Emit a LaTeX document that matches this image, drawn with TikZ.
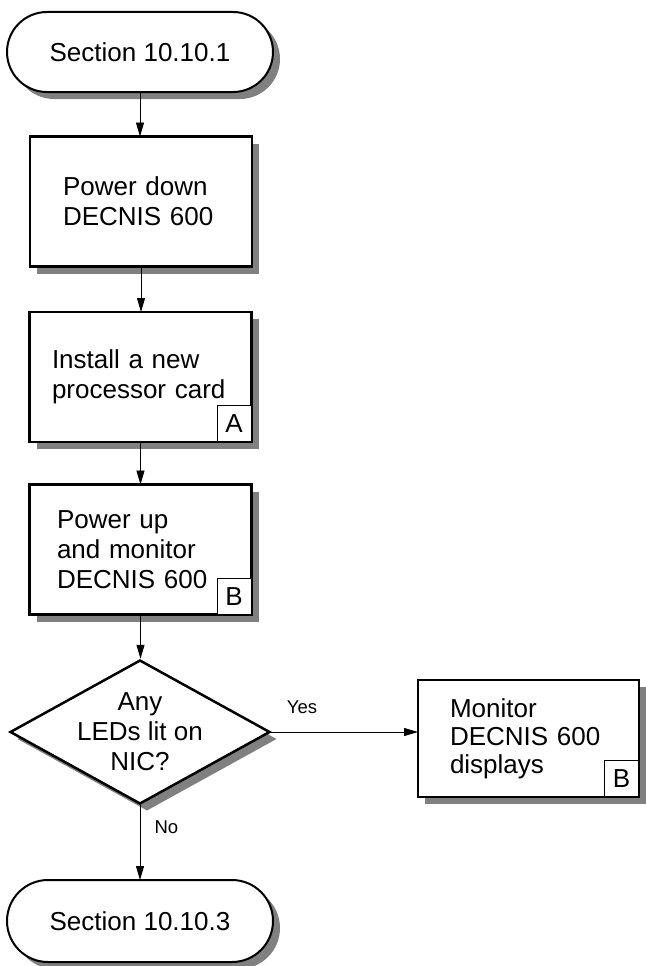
\documentclass[tikz,border=0pt]{standalone}
\usepackage{fontspec}
\setmainfont{Liberation Sans}
\usetikzlibrary{shapes.geometric,shadows,arrows.meta}

\begin{document}
\begin{tikzpicture}[x=1pt, y=-1pt,
    shade/.style={drop shadow={shadow xshift=7pt, shadow yshift=-7pt, fill=black!50, opacity=1}},
    big/.style={font=\fontsize{26}{30}\selectfont},
    terminal/.style={draw, big, line width=2pt, fill=white, rounded corners=40pt, minimum width=266pt, minimum height=80pt, outer sep=0pt, shade},
    procbox/.style={draw, big, line width=2.5pt, fill=white, minimum width=222pt, minimum height=130pt, align=left, outer sep=0pt, shade},
    tagbox/.style={draw, big, line width=0.8pt, fill=white, minimum width=34pt, minimum height=36pt, inner sep=0pt, anchor=south east},
    decision/.style={draw, diamond, line width=2.5pt, fill=white, minimum width=260pt, minimum height=144pt, inner sep=0pt, shade},
    flow/.style={-{Triangle[length=14pt,width=8pt]}, line width=0.9pt},
    lbl/.style={font=\fontsize{18.5}{22}\selectfont}
]
\useasboundingbox (0,0) rectangle (645,966);

% Start
\node[terminal] (start) at (140,52) {Section 10.10.1};

% Steps down the left column
\node[procbox, text width=156pt] (powerdown) at (141,201.5) {Power down\\DECNIS 600};
\node[procbox, text width=177pt] (install) at (140.5,377) {Install a new\\processor card};
\node[tagbox] (tagA) at (install.south east) {A};
\node[procbox, text width=167pt] (powerup) at (140.5,549.5) {Power up\\and monitor\\DECNIS 600};
\node[tagbox] (tagB) at (powerup.south east) {B};

% Decision (text kept apart so the diamond keeps its size)
\node[decision, label={[big, align=center]center:{Any\\LEDs lit on\\NIC?}}] (leds) at (140,732) {};

% Yes branch
\node[procbox, minimum width=221pt, minimum height=117pt, text width=157pt,
      font=\fontsize{26}{28}\selectfont] (monitor) at (528.5,738.5) {Monitor\\DECNIS 600\\displays};
\node[tagbox] (tagB2) at (monitor.south east) {B};

% End
\node[terminal, minimum height=82pt, rounded corners=41pt] (finish) at (140,921) {Section 10.10.3};

% Connectors
\draw[flow] (start.south) -- (start.south |- powerdown.north);
\draw[flow] (powerdown.south) -- (powerdown.south |- install.north);
\draw[flow] (install.south) -- (install.south |- powerup.north);
\draw[flow] (powerup.south) -- (powerup.south |- leds.north);
\draw[flow] (leds.east) -- (leds.east -| monitor.west);
\draw[flow] (leds.south) -- (leds.south |- finish.north);

% Branch labels
\node[lbl] (yes) at (302,707) {Yes};
\node[lbl, anchor=west] (no) at (151,827) {No};
\end{tikzpicture}
\end{document}
